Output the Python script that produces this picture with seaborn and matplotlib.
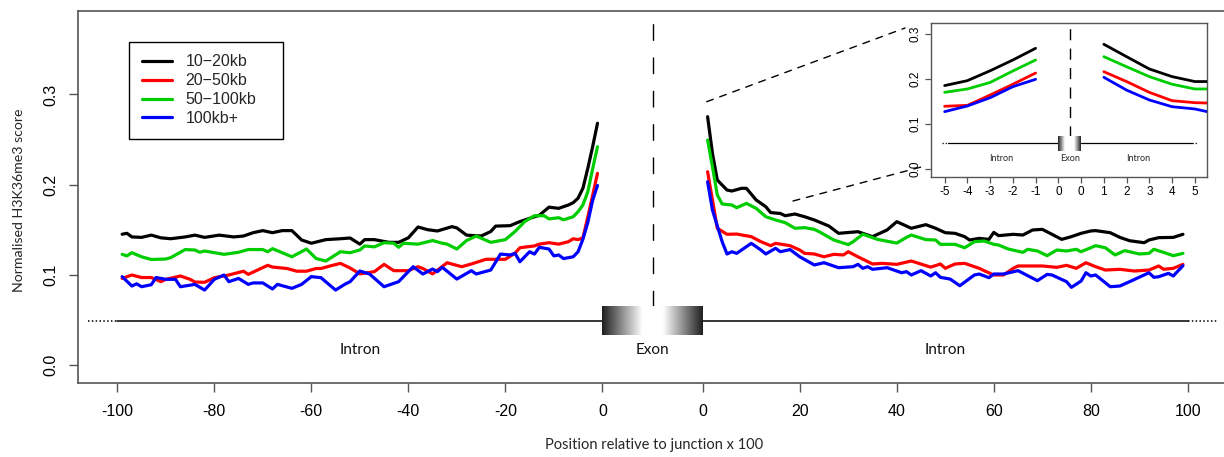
import numpy as np
import pandas as pd
import matplotlib
matplotlib.use("Agg")
import matplotlib.pyplot as plt
import seaborn as sns
from matplotlib.lines import Line2D

# ---------------- data ----------------
series_names = ["10\u221220kb", "20\u221250kb", "50\u2212100kb", "100kb+"]
series_colors = ["#000000", "#FF0000", "#00CD00", "#0000FF"]

# upstream intron (positions -99..-1)
xl_black = [-99, -98, -97, -95, -93, -91, -89, -86, -84, -82, -79, -76, -74, -72, -70, -68, -66, -64, -62, -60,
            -57, -54, -52, -50, -49, -47, -44, -42, -40, -38, -36, -34, -31, -30, -28, -25, -23, -22, -19, -17,
            -15, -13, -11, -9, -7, -6, -5, -4, -3, -2, -1]
yl_black = [0.145, 0.146, 0.142, 0.1415, 0.144, 0.141, 0.140, 0.142, 0.144, 0.1415, 0.144, 0.142, 0.143, 0.1467,
            0.149, 0.1467, 0.149, 0.149, 0.1386, 0.135, 0.139, 0.140, 0.1408, 0.134, 0.139, 0.139, 0.136, 0.136,
            0.141, 0.153, 0.150, 0.1486, 0.1534, 0.152, 0.144, 0.143, 0.148, 0.154, 0.1545, 0.159, 0.1626, 0.166,
            0.175, 0.1737, 0.1774, 0.180, 0.185, 0.196, 0.218, 0.242, 0.268]

xl_red = [-99, -97, -95, -93, -91, -90, -87, -85, -84, -82, -80, -77, -74, -73, -69, -68, -65, -63, -61, -59,
          -58, -56, -54, -52, -50, -47, -45, -43, -40, -38, -37, -35, -32, -29, -27, -24, -20, -18, -17, -14,
          -13, -11, -9, -7, -6, -5, -4, -3, -2, -1]
yl_red = [0.096, 0.0998, 0.097, 0.097, 0.0924, 0.095, 0.0987, 0.095, 0.092, 0.0917, 0.0968, 0.0998, 0.104,
          0.1005, 0.1105, 0.1086, 0.107, 0.104, 0.104, 0.107, 0.107, 0.110, 0.1127, 0.1075, 0.101, 0.1035,
          0.1116, 0.1046, 0.1046, 0.109, 0.107, 0.101, 0.1134, 0.109, 0.112, 0.1172, 0.1172, 0.124, 0.130,
          0.132, 0.134, 0.1356, 0.134, 0.1367, 0.140, 0.139, 0.141, 0.164, 0.188, 0.2125]

xl_green = [-99, -98, -97, -95, -93, -90, -89, -86, -84, -83, -82, -78, -75, -73, -70, -69, -68, -64, -61, -59,
            -57, -54, -52, -50, -49, -47, -45, -43, -42, -41, -38, -35, -33, -32, -30, -28, -26, -23, -20, -18,
            -16, -14, -12, -11, -9, -8, -6, -5, -4, -3, -2, -1]
yl_green = [0.1227, 0.121, 0.1245, 0.120, 0.117, 0.1175, 0.119, 0.128, 0.1275, 0.125, 0.1264, 0.1227, 0.125,
            0.128, 0.128, 0.1256, 0.129, 0.120, 0.1286, 0.118, 0.1153, 0.1256, 0.1245, 0.1275, 0.132, 0.131,
            0.1356, 0.135, 0.1305, 0.135, 0.134, 0.138, 0.135, 0.134, 0.1286, 0.138, 0.143, 0.136, 0.139, 0.148,
            0.159, 0.1655, 0.1655, 0.162, 0.1633, 0.161, 0.1644, 0.170, 0.1775, 0.192, 0.2175, 0.242]

xl_blue = [-99, -97, -96, -95, -93, -92, -90, -88, -87, -84, -82, -80, -78, -77, -75, -73, -72, -70, -68, -67,
           -64, -62, -60, -58, -55, -53, -52, -50, -48, -45, -42, -39, -37, -35, -34, -33, -30, -27, -26, -23,
           -21, -19, -18, -17, -15, -14, -13, -11, -10, -9, -8, -6, -5, -4, -3, -2, -1]
yl_blue = [0.098, 0.0876, 0.090, 0.0868, 0.089, 0.097, 0.095, 0.095, 0.0868, 0.0894, 0.0831, 0.095, 0.0998,
           0.0924, 0.096, 0.0894, 0.091, 0.091, 0.0843, 0.0894, 0.085, 0.0894, 0.098, 0.0968, 0.0831, 0.0898,
           0.0924, 0.1042, 0.1009, 0.0868, 0.0924, 0.109, 0.1009, 0.1064, 0.1035, 0.1083, 0.0953, 0.1046,
           0.1009, 0.1053, 0.123, 0.122, 0.1238, 0.1145, 0.1256, 0.123, 0.1305, 0.1286, 0.121, 0.122, 0.118,
           0.120, 0.1256, 0.1396, 0.158, 0.1826, 0.199]

# downstream intron (positions 1..99)
xr_black = [1, 2, 3, 5, 6, 8, 9, 11, 13, 14, 16, 17, 19, 21, 23, 26, 28, 32, 35, 38, 40, 43, 46, 48, 50, 52,
            54, 55, 57, 59, 60, 61, 64, 66, 68, 70, 72, 74, 76, 78, 80, 81, 84, 86, 88, 91, 92, 94, 97, 99]
yr_black = [0.2753, 0.2347, 0.2051, 0.194, 0.1929, 0.1959, 0.1959, 0.183, 0.1755, 0.169, 0.168, 0.1655,
            0.1674, 0.1644, 0.1608, 0.1541, 0.146, 0.1478, 0.1423, 0.1497, 0.1589, 0.1516, 0.1556, 0.1516,
            0.1467, 0.146, 0.1423, 0.1386, 0.1404, 0.1393, 0.147, 0.1434, 0.1449, 0.1441, 0.1497, 0.1504,
            0.1449, 0.1393, 0.1423, 0.146, 0.1486, 0.149, 0.1467, 0.1415, 0.1378, 0.1356, 0.1386, 0.1412,
            0.1415, 0.1449]

xr_red = [1, 2, 3, 5, 7, 10, 12, 14, 15, 18, 20, 21, 23, 25, 27, 29, 30, 32, 35, 37, 40, 43, 47, 49, 50, 52,
          54, 57, 58, 60, 62, 64, 65, 70, 73, 75, 77, 79, 81, 83, 86, 89, 92, 94, 95, 97, 99]
yr_red = [0.2143, 0.1829, 0.1516, 0.1449, 0.1452, 0.1423, 0.1367, 0.1323, 0.1349, 0.1323, 0.1275, 0.1238,
          0.1231, 0.120, 0.1227, 0.122, 0.1256, 0.120, 0.112, 0.1127, 0.1116, 0.1153, 0.1085, 0.112, 0.1072,
          0.112, 0.1127, 0.1072, 0.1046, 0.0998, 0.0998, 0.1072, 0.1098, 0.1098, 0.1083, 0.1105, 0.1072,
          0.1134, 0.109, 0.1053, 0.1061, 0.1042, 0.1053, 0.1098, 0.1061, 0.1072, 0.1116]

xr_green = [1, 2, 3, 4, 6, 7, 9, 11, 13, 15, 17, 19, 21, 23, 24, 27, 30, 31, 33, 36, 40, 42, 43, 46, 48, 49,
            52, 54, 56, 58, 60, 61, 63, 66, 67, 69, 71, 73, 75, 77, 78, 81, 83, 85, 87, 90, 92, 93, 95, 97, 99]
yr_green = [0.2494, 0.2198, 0.1885, 0.1785, 0.1774, 0.1744, 0.1792, 0.1737, 0.1644, 0.1608, 0.1578, 0.1516,
            0.1523, 0.1504, 0.1478, 0.1386, 0.1335, 0.1367, 0.145, 0.1393, 0.1352, 0.1415, 0.1441, 0.139,
            0.1386, 0.1338, 0.1338, 0.130, 0.1367, 0.1375, 0.1338, 0.133, 0.1286, 0.1249, 0.1283, 0.1264,
            0.1212, 0.1275, 0.1264, 0.1283, 0.1256, 0.1323, 0.130, 0.122, 0.1268, 0.1231, 0.1238, 0.1283,
            0.1249, 0.1212, 0.1238]

xr_blue = [1, 2, 4, 5, 6, 7, 10, 12, 13, 15, 16, 18, 20, 23, 25, 28, 31, 32, 33, 34, 35, 38, 41, 42, 43, 45,
           47, 48, 49, 51, 53, 56, 57, 59, 60, 62, 65, 69, 71, 72, 75, 76, 78, 79, 80, 81, 83, 84, 86, 88, 92,
           93, 94, 96, 97, 99]
yr_blue = [0.2032, 0.1718, 0.1367, 0.1231, 0.1256, 0.1238, 0.1349, 0.1275, 0.1231, 0.1294, 0.1256, 0.128,
           0.120, 0.1109, 0.1134, 0.1079, 0.109, 0.1116, 0.1072, 0.109, 0.1061, 0.1079, 0.1023, 0.1035,
           0.0998, 0.1046, 0.0987, 0.1023, 0.0972, 0.0953, 0.0879, 0.0998, 0.1009, 0.0968, 0.1009, 0.1009,
           0.1046, 0.0935, 0.1005, 0.0998, 0.0924, 0.0861, 0.0931, 0.1023, 0.0987, 0.0998, 0.0912, 0.0868,
           0.0876, 0.0924, 0.1023, 0.0972, 0.0979, 0.1016, 0.0987, 0.1101]

# inset (zoom on the 5 positions next to the exon)
inset_xl = [-5, -4, -3, -2, -1]
inset_xr = [1, 2, 3, 4, 5, 6]
inset_l_black = [0.185, 0.196, 0.218, 0.242, 0.268]
inset_l_red = [0.139, 0.141, 0.164, 0.188, 0.213]
inset_l_green = [0.170, 0.1775, 0.192, 0.2175, 0.242]
inset_l_blue = [0.127, 0.1396, 0.158, 0.1826, 0.199]
inset_r_black = [0.277, 0.2494, 0.222, 0.205, 0.194, 0.194]
inset_r_red = [0.216, 0.194, 0.170, 0.1514, 0.147, 0.1455]
inset_r_green = [0.2494, 0.227, 0.205, 0.188, 0.1775, 0.1775]
inset_r_blue = [0.2035, 0.175, 0.153, 0.138, 0.133, 0.122]

main_xticks_left = [-100, -80, -60, -40, -20, 0]
main_xticks_right = [0, 20, 40, 60, 80, 100]
main_yticks = [0.0, 0.1, 0.2, 0.3]
inset_xticks_left = [-5, -4, -3, -2, -1, 0]
inset_xticks_right = [0, 1, 2, 3, 4, 5]
inset_yticks = [0.0, 0.1, 0.2, 0.3]

# ---------------- style ----------------
sns.set_theme(style="white")
plt.rcParams["font.family"] = ["Liberation Sans", "DejaVu Sans"]
ANNOT_FONT = ["Lato", "DejaVu Sans"]
FRAME = "#555555"

OFF = 20.7        # width of the exon gap on the main x axis
IOFF = 1.0        # width of the exon gap on the inset x axis

W, H = 1224, 457
fig = plt.figure(figsize=(W / 100, H / 100), dpi=100)
ax = fig.add_axes([78 / W, 1 - 382.7 / H, 1152 / W, 372 / H])


def long_df(xs_list, ys_list, shift):
    rows = []
    for name, xs, ys in zip(series_names, xs_list, ys_list):
        for x, y in zip(xs, ys):
            rows.append((name, x + shift, y))
    return pd.DataFrame(rows, columns=["series", "x", "y"])


palette = dict(zip(series_names, series_colors))
df_left = long_df([xl_black, xl_red, xl_green, xl_blue], [yl_black, yl_red, yl_green, yl_blue], 0)
df_right = long_df([xr_black, xr_red, xr_green, xr_blue], [yr_black, yr_red, yr_green, yr_blue], OFF)

for df in (df_left, df_right):
    sns.lineplot(data=df, x="x", y="y", hue="series", palette=palette, estimator=None,
                 sort=False, lw=2.3, legend=False, ax=ax, zorder=4)


def exon_box(axis, x0, x1, y0, y1, white_from, white_to, dark=0.12):
    xs = np.linspace(x0, x1, 600)
    g = np.ones_like(xs)
    left = xs < white_from
    g[left] = dark + (1 - dark) * (xs[left] - x0) / (white_from - x0)
    right = xs > white_to
    g[right] = 1 - (1 - dark) * (xs[right] - white_to) / (x1 - white_to)
    axis.imshow(g[None, :], extent=[x0, x1, y0, y1], aspect="auto", cmap="gray",
                vmin=0, vmax=1, interpolation="bilinear", zorder=3)


# gene model in main plot
YG = 0.049
ax.plot([-100, 0], [YG, YG], color="black", lw=1.1, zorder=2)
ax.plot([OFF, 100 + OFF], [YG, YG], color="black", lw=1.1, zorder=2)
ax.plot([-106, -100], [YG, YG], color="black", lw=1.1, ls=(0, (1, 1.5)), zorder=2)
ax.plot([100 + OFF, 106 + OFF], [YG, YG], color="black", lw=1.1, ls=(0, (1, 1.5)), zorder=2)
exon_box(ax, 0, OFF, 0.0333, 0.0646, 8.3, 12.5)
ax.plot([OFF / 2, OFF / 2], [0.064, 0.40], color="black", lw=1.0, ls=(0, (12, 12)), zorder=2)
ax.text(-50, 0.0166, "Intron", ha="center", va="center", fontsize=11, family=ANNOT_FONT, color="#111111")
ax.text(OFF / 2, 0.0166, "Exon", ha="center", va="center", fontsize=11, family=ANNOT_FONT, color="#111111")
ax.text(50 + OFF, 0.0166, "Intron", ha="center", va="center", fontsize=11, family=ANNOT_FONT, color="#111111")

ax.set_xlim(-108.1, 129.4)
ax.set_ylim(-0.0196, 0.3928)
ax.set_xticks(main_xticks_left + [t + OFF for t in main_xticks_right])
ax.set_xticklabels([str(t) for t in main_xticks_left] + [str(t) for t in main_xticks_right])
ax.set_yticks(main_yticks)
ax.set_yticklabels([f"{t:.1f}" for t in main_yticks], rotation=90, va="center")
ax.tick_params(axis="both", direction="out", length=6.5, width=1.0, color=FRAME, labelsize=11.5,
               labelcolor="black", bottom=True, left=True)
ax.tick_params(axis="x", pad=8.5)
ax.tick_params(axis="y", pad=7.5)
ax.set_xlabel("")
ax.set_ylabel("")
for s in ["top", "left", "bottom"]:
    ax.spines[s].set_color(FRAME)
    ax.spines[s].set_linewidth(1.2)
ax.spines["right"].set_visible(False)

fig.text(654 / W, 1 - 445 / H, "Position relative to junction x 100", ha="center", va="center",
         fontsize=10.5, family=ANNOT_FONT)
fig.text(19 / W, 1 - 200 / H, "Normalised H3K36me3 score", ha="center", va="center",
         rotation=90, fontsize=10.2, family=ANNOT_FONT)

handles = [Line2D([0], [0], color=c, lw=2.3) for c in series_colors]
leg_x0 = (129 - 78) / 1152
leg_y1 = (382.7 - 41.7) / 372
leg_w = (283 - 129) / 1152
leg_h = (136.3 - 41.7) / 372
leg = ax.legend(handles, series_names, loc="upper left",
                bbox_to_anchor=(leg_x0, leg_y1 - leg_h, leg_w, leg_h), mode="expand",
                frameon=True, fancybox=False, framealpha=1, edgecolor="black", fontsize=11.5,
                handlelength=1.9, handletextpad=0.85, labelspacing=0.24, borderpad=0.8,
                borderaxespad=0)
leg.get_frame().set_linewidth(1.0)

# zoom connector lines
ax.annotate("", xy=(905 / W, 1 - 28 / H), xycoords="figure fraction",
            xytext=(706.7 / W, 1 - 101.7 / H), textcoords="figure fraction",
            arrowprops=dict(arrowstyle="-", color="black", lw=1.0, ls=(0, (5, 5)), shrinkA=0, shrinkB=0))
ax.annotate("", xy=(925 / W, 1 - 166 / H), xycoords="figure fraction",
            xytext=(793 / W, 1 - 201 / H), textcoords="figure fraction",
            arrowprops=dict(arrowstyle="-", color="black", lw=1.0, ls=(0, (5, 5)), shrinkA=0, shrinkB=0))

# ---------------- inset ----------------
ins = fig.add_axes([931 / W, 1 - 176.7 / H, 276.3 / W, 154 / H])
ins.set_facecolor("white")
idf_left = long_df([inset_xl] * 4, [inset_l_black, inset_l_red, inset_l_green, inset_l_blue], 0)
idf_right = long_df([inset_xr] * 4, [inset_r_black, inset_r_red, inset_r_green, inset_r_blue], IOFF)
for df in (idf_left, idf_right):
    sns.lineplot(data=df, x="x", y="y", hue="series", palette=palette, estimator=None,
                 sort=False, lw=2.0, legend=False, ax=ins, zorder=4)

YI = 0.0566
ins.plot([-4.86, 0], [YI, YI], color="black", lw=0.9, zorder=2)
ins.plot([IOFF, 5.87], [YI, YI], color="black", lw=0.9, zorder=2)
ins.plot([-5.13, -4.86], [YI, YI], color="black", lw=0.9, ls=(0, (1, 1.5)), zorder=2)
ins.plot([5.87, 6.12], [YI, YI], color="black", lw=0.9, ls=(0, (1, 1.5)), zorder=2)
exon_box(ins, 0, IOFF, 0.040, 0.073, 0.3, 0.7)
ins.plot([IOFF / 2, IOFF / 2], [0.071, 0.33], color="black", lw=1.0, ls=(0, (8, 6)), zorder=2)
ins.text(-2.5, 0.022, "Intron", ha="center", va="center", fontsize=6.5, family=ANNOT_FONT)
ins.text(IOFF / 2, 0.022, "Exon", ha="center", va="center", fontsize=6.5, family=ANNOT_FONT)
ins.text(2.5 + IOFF, 0.022, "Intron", ha="center", va="center", fontsize=6.5, family=ANNOT_FONT)

ins.set_xlim(-5.6, 6.55)
ins.set_ylim(-0.0178, 0.325)
ins.set_xticks(inset_xticks_left + [t + IOFF for t in inset_xticks_right])
ins.set_xticklabels([str(t) for t in inset_xticks_left] + [str(t) for t in inset_xticks_right])
ins.set_yticks(inset_yticks)
ins.set_yticklabels([f"{t:.1f}" for t in inset_yticks], rotation=90, va="center")
ins.tick_params(axis="both", direction="out", length=4, width=0.9, color=FRAME, labelsize=8.5,
                labelcolor="black", bottom=True, left=True, pad=3)
ins.set_xlabel("")
ins.set_ylabel("")
for s in ins.spines.values():
    s.set_color(FRAME)
    s.set_linewidth(1.0)

fig.savefig("out.png", dpi=100)
